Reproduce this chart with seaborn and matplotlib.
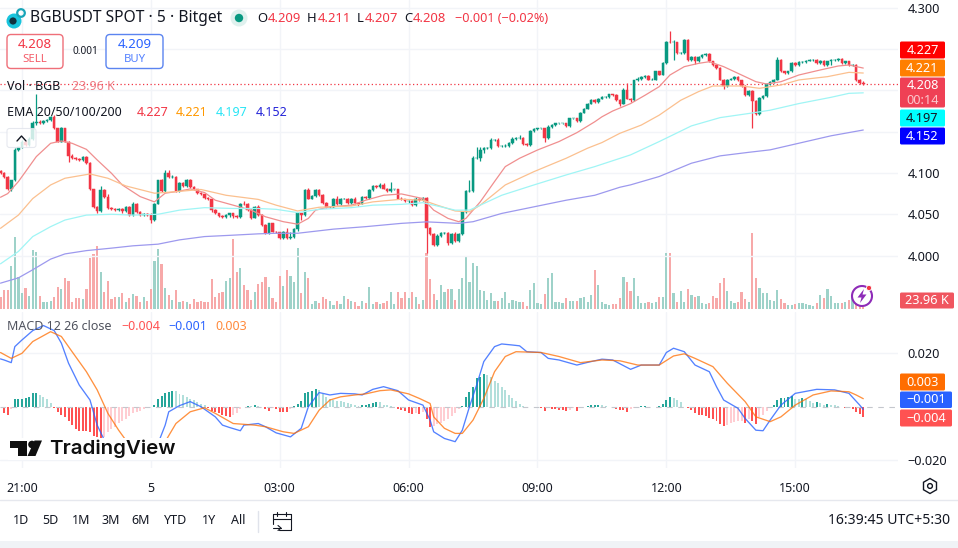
import numpy as np
import pandas as pd
import seaborn as sns
import matplotlib
matplotlib.use("Agg")
import matplotlib.pyplot as plt
from matplotlib.patches import Circle, FancyBboxPatch, Polygon, Rectangle, RegularPolygon

# Candle closes, one per five-minute bar from 20:30 to 16:35
closes = [
    4.100,4.095,4.081,4.091,4.128,4.131,4.138,4.134,4.141,4.160,
    4.162,4.160,4.163,4.164,4.168,4.154,4.138,4.154,4.138,4.120,
    4.118,4.117,4.116,4.119,4.112,4.080,4.059,4.054,4.079,4.071,
    4.057,4.056,4.055,4.056,4.054,4.059,4.049,4.063,4.053,4.049,
    4.050,4.049,4.043,4.063,4.091,4.078,4.100,4.095,4.095,4.078,
    4.088,4.084,4.092,4.083,4.080,4.076,4.074,4.070,4.068,4.055,
    4.051,4.048,4.047,4.049,4.051,4.048,4.047,4.063,4.062,4.055,
    4.046,4.059,4.049,4.037,4.027,4.039,4.029,4.028,4.021,4.029,
    4.021,4.023,4.032,4.051,4.049,4.079,4.069,4.072,4.079,4.073,
    4.064,4.059,4.059,4.069,4.062,4.069,4.069,4.064,4.069,4.064,
    4.063,4.071,4.070,4.079,4.084,4.083,4.086,4.081,4.078,4.080,
    4.080,4.069,4.068,4.066,4.066,4.061,4.069,4.067,4.070,4.033,
    4.026,4.013,4.024,4.027,4.027,4.015,4.026,4.018,4.026,4.053,
    4.078,4.078,4.118,4.118,4.128,4.130,4.130,4.140,4.140,4.133,
    4.133,4.133,4.136,4.141,4.142,4.142,4.135,4.134,4.151,4.153,
    4.154,4.154,4.142,4.156,4.158,4.160,4.160,4.160,4.157,4.166,
    4.166,4.163,4.173,4.178,4.184,4.188,4.186,4.190,4.192,4.192,
    4.195,4.194,4.188,4.184,4.201,4.190,4.188,4.212,4.214,4.216,
    4.217,4.213,4.213,4.223,4.219,4.233,4.259,4.258,4.258,4.245,
    4.245,4.261,4.237,4.240,4.235,4.240,4.243,4.244,4.235,4.231,
    4.227,4.213,4.205,4.213,4.214,4.216,4.212,4.205,4.194,4.199,
    4.187,4.171,4.191,4.193,4.208,4.210,4.213,4.237,4.223,4.221,
    4.223,4.233,4.231,4.234,4.234,4.236,4.237,4.237,4.233,4.236,
    4.231,4.235,4.237,4.237,4.238,4.233,4.235,4.231,4.231,4.212,
    4.209,4.208,
]
first_open = 4.102

# Wick lengths above and below the body, in price ticks of 0.001
upper_ticks = [
    2,1,1,1,2,1,2,1,2,3, 34,2,1,1,1,2,1,2,1,1, 3,1,1,1,2,1,1,1,5,2,
    3,2,1,1,1,1,1,2,1,1, 1,1,2,1,1,2,4,3,2,1, 1,1,1,1,1,1,1,1,1,1,
    1,1,1,1,1,1,1,1,3,2, 1,1,2,1,1,1,1,1,1,1, 4,5,1,2,1,1,3,1,2,1,
    1,1,1,1,3,1,1,1,1,2, 1,1,1,1,1,1,2,2,1,9, 1,1,2,1,1,1,2,1,1,1,
    1,1,2,2,2,2,1,2,1,1, 1,13,2,13,3,2,1,2,1,2, 1,2,1,2,2,4,1,1,1,2,
    1,1,1,2,1,1,1,1,1,1, 1,1,1,1,1,1,1,1,1,1, 1,1,1,1,2,8,1,1,2,1,
    1,1,2,1,1,1,1,13,3,1, 1,1,1,1,1,1,1,1,1,1, 1,1,1,1,1,1,1,1,1,1,
    1,1,1,1,1,1,1,3,1,1, 1,1,1,1,1,1,1,1,1,1, 1,1,1,1,1,1,1,1,1,1,
    2,2,
]
lower_ticks = [
    1,1,2,3,1,2,1,1,1,1, 2,1,1,1,1,1,1,1,1,7, 1,1,1,1,1,1,2,2,1,1,
    1,1,1,1,2,1,1,1,1,1, 1,1,3,1,1,1,1,1,1,1, 1,1,1,1,1,1,1,1,1,2,
    1,1,2,2,2,2,2,2,1,1, 2,1,1,1,1,1,1,1,1,1, 1,1,2,2,6,1,1,1,1,1,
    1,1,1,1,1,1,1,1,1,2, 3,1,1,1,1,1,1,1,1,1, 1,1,1,1,2,1,1,1,1,30,
    1,2,1,1,1,2,1,2,1,1, 1,1,1,1,4,4,1,1,1,1, 1,2,1,1,1,1,1,1,1,1,
    1,1,4,1,1,1,1,1,1,1, 1,1,1,1,1,1,1,1,1,1, 1,1,1,3,1,1,2,1,1,1,
    1,1,1,1,1,1,1,1,21,1, 1,1,1,1,3,1,1,1,1,1, 1,1,3,1,1,1,1,1,1,1,
    33,1,1,1,1,1,1,1,1,1, 1,1,1,1,1,1,1,1,1,1, 1,1,4,1,1,1,1,1,1,1,
    1,1,
]

# Traded volume per bar, thousands of BGB
volumes_k = [
    126,194,194,439,738,330,160,211,136,602, 585,136,75,75,85,126,221,201,320,289,
    75,109,109,99,201,524,558,643,381,177, 289,99,126,126,160,75,109,150,133,75,
    126,85,201,493,609,459,211,143,92,194, 75,85,75,51,99,75,85,75,75,306,
    119,160,177,286,320,714,381,415,245,194, 92,177,255,279,330,228,109,75,340,235,
    398,340,272,619,167,374,313,48,85,58, 126,99,85,41,82,48,136,99,82,75,
    31,82,65,221,48,75,51,58,85,173, 51,170,109,170,116,170,126,51,92,568,
    309,150,92,245,170,201,201,92,201,313, 544,279,466,439,194,184,92,160,82,85,
    109,170,58,92,85,75,75,31,194,262, 58,48,150,320,364,75,75,65,109,85,
    85,85,116,126,68,139,398,245,75,51, 41,51,51,109,330,279,187,320,133,58,
    65,75,65,75,119,119,568,568,160,75, 184,75,201,143,126,133,65,51,65,133,
    109,262,320,187,85,58,75,170,99,68, 779,313,211,167,167,92,82,194,99,58,
    41,41,51,58,58,51,41,31,65,139, 112,201,133,58,58,58,75,92,143,65,
    31,23.96,
]

# Exponential averages, read at selected bars
ema20_bars = [0,2,5,7,10,14,17,20,24,27,31,34,39,43,46,50,53,57,60,65,70,74,79,83,86,88,92,98,102,107,112,118,121,125,128,130,134,138,141,145,150,156,161,166,168,171,176,180,184,187,191,195,198,202,207,211,214,218,223,229,234,237,241]
ema20 = [4.0706,4.075,4.0896,4.1016,4.1198,4.1359,4.1387,4.1359,4.1286,4.1158,4.0996,4.0855,4.0714,4.065,4.0755,4.078,4.0807,4.0763,4.067,4.061,4.055,4.047,4.041,4.038,4.045,4.055,4.059,4.061,4.067,4.073,4.0746,4.069,4.055,4.045,4.041,4.045,4.065,4.0896,4.1077,4.1178,4.1278,4.138,4.1488,4.162,4.168,4.175,4.184,4.194,4.2045,4.2186,4.2287,4.2327,4.2347,4.2287,4.2186,4.2105,4.2077,4.2105,4.2186,4.2247,4.2295,4.2307,4.227]
ema50_bars = [0,5,9,14,18,25,30,35,43,48,56,63,72,77,83,89,98,104,112,118,122,127,131,134,141,149,158,164,168,173,179,184,190,195,199,207,212,218,223,231,237,241]
ema50 = [4.033,4.049,4.069,4.0855,4.0936,4.0988,4.0936,4.0843,4.0755,4.077,4.080,4.073,4.068,4.061,4.054,4.0585,4.060,4.065,4.0682,4.067,4.061,4.054,4.053,4.061,4.0855,4.1016,4.1178,4.13,4.1368,4.148,4.158,4.170,4.188,4.1985,4.2053,4.2053,4.2025,4.2065,4.2126,4.2166,4.2218,4.221]
ema100_bars = [0,5,9,14,18,24,31,37,44,50,57,65,72,77,83,89,98,104,112,118,123,127,131,140,149,158,166,176,184,193,201,209,215,223,232,237,241]
ema100 = [3.990,4.005,4.023,4.035,4.043,4.049,4.050,4.049,4.050,4.055,4.058,4.057,4.057,4.056,4.052,4.056,4.058,4.061,4.062,4.064,4.059,4.055,4.055,4.073,4.0855,4.0976,4.1077,4.1219,4.138,4.157,4.167,4.172,4.176,4.184,4.1916,4.1964,4.197]
ema200_bars = [0,5,9,14,18,24,31,37,44,50,57,65,72,77,83,89,93,102,112,119,128,132,140,149,158,166,173,176,184,193,201,209,215,223,232,241]
ema200 = [3.9666,3.973,3.9828,3.9957,4.002,4.006,4.009,4.0118,4.0138,4.019,4.023,4.0247,4.0263,4.027,4.027,4.030,4.032,4.035,4.039,4.0408,4.039,4.041,4.051,4.059,4.067,4.073,4.0827,4.0856,4.0957,4.1118,4.1207,4.125,4.128,4.136,4.145,4.152]

# MACD line and signal line, read at selected bars
macd_bars = [0,1,3,4,6,9,12,15,17,19,22,25,27,29,32,36,39,41,44,46,47,50,53,56,60,62,64,67,68,72,74,77,81,84,86,89,92,95,99,101,104,107,111,114,118,120,121,124,127,129,131,133,135,138,140,143,145,147,151,153,156,161,164,168,171,176,179,184,186,188,191,194,198,200,202,206,208,211,213,215,218,222,228,233,237,240,241]
macd_line = [.0179,.0175,.0165,.0225,.025,.0285,.0304,.0285,.0238,.0163,.0081,.0025,-.0069,-.0125,-.0175,-.0188,-.0175,-.016,-.0138,-.0069,-.0019,.0004,.0019,0,-.0038,-.0069,-.0078,-.009,-.0069,-.0063,-.0075,-.0098,-.0113,-.0081,0,.0053,.0044,.005,.0048,.0044,.0065,.0075,.006,.0025,.0006,-.005,-.0094,-.0119,-.0131,-.0088,0,.0081,.0169,.0225,.0235,.0231,.0228,.0206,.0203,.0181,.0175,.0156,.0166,.0178,.0175,.014,.0156,.0156,.0203,.0219,.0206,.0156,.0131,.0075,.0025,-.0006,-.0044,-.0088,-.009,-.005,.0006,.005,.0065,.0063,.005,.0006,-.001]
signal_bars = [0,3,6,9,14,17,20,24,27,30,33,35,39,44,46,49,53,57,60,65,71,74,79,82,86,89,92,95,99,102,106,109,114,117,120,121,124,127,129,132,135,138,141,144,151,156,162,168,173,178,184,188,191,194,199,203,208,211,215,218,222,227,232,237,239,241]
signal_line = [.0203,.0181,.02,.0244,.0281,.0263,.0206,.0131,.0063,-.0025,-.0088,-.0125,-.0188,-.0169,-.0131,-.0063,-.0019,-.0004,-.0025,-.0063,-.0069,-.0075,-.0094,-.01,-.0075,-.0013,.0025,.0037,.0044,.0048,.006,.0063,.0048,.0031,.0012,-.0038,-.0081,-.01,-.01,-.005,.0031,.0131,.0188,.0206,.0203,.0188,.0165,.0175,.0172,.0156,.0156,.019,.0198,.0181,.015,.0088,.0019,-.0038,-.0056,-.0038,.0006,.0044,.0059,.0056,.0044,.003]

# MACD histogram, one value per bar
macd_hist = [
    0,-.0025,-.003,-.001,.003,.003,.003,.0034,.0035,.005,
    .005,.0042,.0035,.0028,.0015,-.0006,-.002,-.003,-.004,-.0055,
    -.007,-.0085,-.009,-.0091,-.0092,-.0095,-.011,-.0115,-.012,-.0115,
    -.0095,-.0085,-.0075,-.006,-.0055,-.0045,-.0035,-.0025,-.002,-.0015,
    -.001,-.0005,0,.0008,.003,.004,.005,.0055,.0058,.0057,
    .0048,.0042,.0038,.003,.0025,.0018,.001,.0005,-.0005,-.0015,
    -.002,-.0025,-.003,-.0035,-.0038,-.003,-.0025,-.001,0,.0004,
    .0002,.0005,.0003,-.0002,-.0008,-.0015,-.0005,-.0008,-.0018,-.0018,
    -.002,-.001,.0003,.001,.002,.005,.0055,.006,.0065,.0062,
    .0047,.0035,.003,.0025,.0022,.002,.0017,.0012,.001,.0006,
    .0002,.0005,.0007,.0011,.0015,.0017,.0016,.0007,.0005,.0003,
    -.0001,-.0008,-.0012,-.0015,-.0022,-.0028,-.0025,-.0028,-.0018,-.0045,
    -.0075,-.0074,-.0065,-.006,-.0053,-.0045,-.0035,-.0022,-.001,.0002,
    .0035,.0055,.0075,.0106,.011,.0122,.0118,.011,.0095,.0088,
    .0075,.0062,.0045,.0033,.002,.001,.0002,-.0003,-.0002,-.0002,
    -.0004,-.0006,-.0015,-.0005,-.0008,-.0008,-.0012,-.0012,-.0015,-.0014,
    -.0003,-.0016,-.0006,-.0002,.0001,.0006,.0007,.0008,.0007,.0001,
    -.0002,-.0004,-.001,-.0012,-.0014,-.0018,-.001,-.0005,-.0002,.0001,
    .0003,-.0001,-.0002,-.0002,.0001,.001,.0025,.0035,.0034,.0024,
    .0018,-.0002,-.0005,-.0012,-.0025,-.003,-.0031,-.0035,-.0042,-.0045,
    -.0055,-.0065,-.0072,-.007,-.0062,-.0058,-.0055,-.0054,-.006,-.0045,
    -.0055,-.0065,-.004,-.003,-.0015,-.0005,.0008,.0025,.0032,.0034,
    .0036,.004,.003,.0028,.0032,.0028,.002,.0015,.0017,.0015,
    .0008,.0009,.0007,.0005,.0001,-.0001,-.0004,-.0005,-.0009,-.0018,
    -.0028,-.004,
]

time_tick_bars = [6, 42, 78, 114, 150, 186, 222]
time_tick_labels = ["21:00", "5", "03:00", "06:00", "09:00", "12:00", "15:00"]
price_ticks = [4.00, 4.05, 4.10, 4.15, 4.20, 4.25, 4.30]
price_tick_labels = ["4.000", "4.050", "4.100", "", "", "", "4.300"]
range_buttons = ["1D", "5D", "1M", "3M", "6M", "YTD", "1Y", "All"]

UP = "#089981"
DOWN = "#f23645"
INK = "#131722"
GRID = "#f2f4f8"
FONT = "Noto Sans"

sns.set_theme(style="white")
plt.rcParams["font.family"] = [FONT, "DejaVu Sans"]

W, H = 958, 548
fig = plt.figure(figsize=(W / 100, H / 100), dpi=100, facecolor="white")


def pane(top, bottom, z):
    """Axes spanning the chart width between two pixel rows."""
    return fig.add_axes([0, 1 - bottom / H, 898 / W, (bottom - top) / H], zorder=z)


def set_bar_widths(axis, width):
    """Give every bar drawn on the axis the same width around its centre."""
    for patch in axis.patches:
        centre = patch.get_x() + patch.get_width() / 2
        patch.set_width(width)
        patch.set_x(centre - width / 2)


closes_arr = np.array(closes)
opens_arr = np.r_[first_open, closes_arr[:-1]]
highs = np.maximum(opens_arr, closes_arr) + np.array(upper_ticks) * 0.001
lows = np.minimum(opens_arr, closes_arr) - np.array(lower_ticks) * 0.001
bars = np.arange(len(closes))
rising = closes_arr >= opens_arr
XLIM = (-0.14, 250.7)

# Volume sits underneath the candles and shares their pane
ax_vol = pane(0, 310, 1)
vol_frame = pd.DataFrame({"bar": bars, "vol": volumes_k,
                          "side": np.where(rising, "up", "down")})
sns.barplot(data=vol_frame, x="bar", y="vol", hue="side", dodge=False,
            native_scale=True, errorbar=None, legend=False, saturation=1, linewidth=0,
            palette={"up": "#9ed2c9", "down": "#f7a9a9"}, ax=ax_vol)
set_bar_widths(ax_vol, 0.62)
ax_vol.set_ylim(-10, 3150)
ax_vol.set_xlim(*XLIM)
ax_vol.set_yticks([])
ax_vol.set_xticks(time_tick_bars)
ax_vol.tick_params(labelbottom=False, length=0)
ax_vol.set_xlabel("")
ax_vol.set_ylabel("")
ax_vol.xaxis.grid(True, color=GRID, lw=1)
ax_vol.set_axisbelow(True)
sns.despine(ax=ax_vol, left=True, bottom=True)

# Candles, averages and the last-price line
ax = pane(0, 310, 2)
ax.patch.set_alpha(0)
ax.yaxis.grid(True, color=GRID, lw=1)
ax.set_axisbelow(True)
colors = np.where(rising, UP, DOWN)
ax.vlines(bars, lows, highs, colors=colors, lw=0.9, zorder=3)
ax.bar(bars, closes_arr - opens_arr, bottom=opens_arr, width=0.72, color=colors,
       edgecolor=colors, linewidth=0.35, zorder=4)
for xs, ys, col in [(ema20_bars, ema20, "#f08f8f"), (ema50_bars, ema50, "#fbc08f"),
                    (ema100_bars, ema100, "#a0f5f5"), (ema200_bars, ema200, "#9d99ee")]:
    sns.lineplot(x=xs, y=ys, color=col, lw=0.9, estimator=None, errorbar=None, ax=ax, zorder=5)
ax.axhline(closes[-1], color=DOWN, lw=0.9, ls=(0, (1, 2)), zorder=2)
ax.set_xlim(*XLIM)
ax.set_ylim(3.9341, 4.3094)
ax.set_xticks([])
ax.yaxis.tick_right()
ax.set_yticks(price_ticks)
ax.set_yticklabels(price_tick_labels, color=INK, fontsize=9.2)
ax.tick_params(axis="y", length=0, pad=7)
ax.set_xlabel("")
ax.set_ylabel("")
sns.despine(ax=ax, left=True, bottom=True, right=True)

# MACD pane
ax_m = pane(312, 468, 2)
hist = np.array(macd_hist)
change = np.r_[0, np.diff(hist)]
kind = np.where(hist >= 0, np.where(change >= 0, "up_strong", "up_weak"),
                np.where(change <= 0, "down_strong", "down_weak"))
hist_frame = pd.DataFrame({"bar": bars, "hist": hist, "kind": kind})
sns.barplot(data=hist_frame, x="bar", y="hist", hue="kind", dodge=False,
            native_scale=True, errorbar=None, legend=False, saturation=1, linewidth=0,
            palette={"up_strong": "#26a69a", "up_weak": "#b2dfdb",
                     "down_strong": "#ff5252", "down_weak": "#ffcdd2"}, ax=ax_m)
set_bar_widths(ax_m, 0.55)
ax_m.axhline(0, color="#c4c7cd", lw=0.8, ls=(0, (5, 5)), zorder=1)
sns.lineplot(x=macd_bars, y=macd_line, color="#2962ff", lw=0.95, alpha=0.8,
             estimator=None, errorbar=None, ax=ax_m, zorder=4)
sns.lineplot(x=signal_bars, y=signal_line, color="#ff6d00", lw=0.95, alpha=0.75,
             estimator=None, errorbar=None, ax=ax_m, zorder=4)
ax_m.set_xlim(*XLIM)
ax_m.set_ylim(-0.02296, 0.03547)
ax_m.yaxis.tick_right()
ax_m.set_yticks([-0.02, 0.02])
ax_m.set_yticklabels(["\u22120.020", "0.020"], color=INK, fontsize=9.2)
ax_m.set_xticks(time_tick_bars)
ax_m.set_xticklabels(time_tick_labels, color=INK, fontsize=9)
ax_m.get_xticklabels()[1].set_fontweight("bold")
ax_m.tick_params(axis="y", length=0, pad=7)
ax_m.tick_params(axis="x", length=0, pad=10)
ax_m.grid(True, color=GRID, lw=1)
ax_m.set_axisbelow(True)
ax_m.set_xlabel("")
ax_m.set_ylabel("")
sns.despine(ax=ax_m, left=True, bottom=True, right=True)

# Interface layer, laid out in pixel rows and columns
ui = fig.add_axes([0, 0, 1, 1], zorder=10)
ui.set_xlim(0, W)
ui.set_ylim(H, 0)
ui.axis("off")
ui.patch.set_alpha(0)


def label(x, y, s, color=INK, size=9, ha="left", **kw):
    return ui.text(x, y, s, color=color, fontsize=size, ha=ha, va="center", **kw)


def rect(x0, y0, x1, y1, color, **kw):
    ui.add_patch(Rectangle((x0, y0), x1 - x0, y1 - y0, facecolor=color, edgecolor="none", **kw))


def tag(x1, y0, y1, color, s, text_color="white"):
    ui.add_patch(FancyBboxPatch((900, y0 + 0.5), x1 - 900, y1 - y0 - 1,
                                boxstyle="round,pad=0,rounding_size=1.5",
                                facecolor=color, edgecolor="none"))
    label((900 + x1) / 2, (y0 + y1) / 2, s, color=text_color, size=9.2, ha="center")


# Header
ui.add_patch(Circle((14, 21), 7.5, facecolor="#18c4dc", edgecolor="none"))
ui.add_patch(Circle((13, 21), 3.6, facecolor="#10323f", edgecolor="none"))
ui.add_patch(Circle((21, 13), 3.8, facecolor="none", edgecolor="#18a5b8", lw=1.6))
label(30, 18, "BGBUSDT SPOT \u00b7 5 \u00b7 Bitget", size=11.25)
ui.add_patch(Circle((239, 18), 8.5, facecolor="#dff1ee", edgecolor="none"))
ui.add_patch(Circle((239, 18), 4.2, facecolor=UP, edgecolor="none"))
for px, s, c in [(257, "O", INK), (268, "4.209", DOWN), (307, "H", INK), (318, "4.211", DOWN),
                 (357, "L", INK), (365, "4.207", DOWN), (404, "C", INK), (413, "4.208", DOWN)]:
    label(px, 18, s, color=c, size=9.4)
label(455, 18, "\u22120.001 (\u22120.02%)", color=DOWN, size=9.1)

# Order buttons
for x0, x1, edge, price, word in [(7, 63, "#ef6f79", "4.208", "SELL"), (106, 163, "#5b84f0", "4.209", "BUY")]:
    ui.add_patch(FancyBboxPatch((x0, 34.5), x1 - x0, 34, boxstyle="round,pad=0,rounding_size=4",
                                facecolor="white", edgecolor=edge, lw=1))
    mid = (x0 + x1) / 2
    col = DOWN if word == "SELL" else "#2962ff"
    label(mid, 44, price, color=col, size=9.6, ha="center")
    label(mid, 59, word, color=col, size=8.2, ha="center", alpha=0.8)
label(85, 52, "0.001", size=7.2, ha="center")

# Indicator legends
label(7, 87, "Vol \u00b7 BGB", size=9)
label(72, 87, "23.96 K", color="#ef7d85", size=9)
label(7, 112, "EMA 20/50/100/200", size=9)
for px, s, c in [(137, "4.227", "#f23645"), (176, "4.221", "#ff9800"),
                 (216, "4.197", "#29e5f5"), (256, "4.152", "#2424d8")]:
    label(px, 112, s, color=c, size=9)
label(7, 327, "MACD 12 26 close", color="#50535e", size=9)
for px, s, c in [(121, "\u22120.004", "#ff5252"), (168, "\u22120.001", "#2962ff"), (215, "0.003", "#ff8a3c")]:
    label(px, 327, s, color=c, size=9)

# Collapse button over the legend
ui.add_patch(FancyBboxPatch((7, 128.5), 29, 19, boxstyle="round,pad=0,rounding_size=2.5",
                            facecolor="white", edgecolor="#e0e3eb", lw=0.8, alpha=0.8))
ui.plot([17, 21.5, 26], [141, 136, 141], color=INK, lw=1)

# Price tags on the right scale
tag(945, 41, 59, "#ff0000", "4.227")
tag(945, 59, 77, "#ff7f00", "4.221")
ui.add_patch(FancyBboxPatch((900, 77.5), 45, 30, boxstyle="round,pad=0,rounding_size=1.5",
                            facecolor="#ef4055", edgecolor="none"))
label(922.5, 85.5, "4.208", color="white", size=9.2, ha="center")
label(922.5, 100, "00:14", color="#fbc6cb", size=9.2, ha="center")
tag(945, 109, 127, "#00ffff", "4.197", INK)
tag(945, 127, 145, "#0000ff", "4.152")
tag(954, 292, 309, "#f0555f", "23.96 K")
tag(945, 373, 391, "#ff6d00", "0.003")
tag(952, 391, 408.5, "#2962ff", "\u22120.001")
tag(952, 409, 427, "#ff5252", "\u22120.004")

# Alert badge above the volume
ui.add_patch(Circle((862, 296), 10, facecolor="white", edgecolor="#8e2bb8", lw=1.5))
ui.add_patch(Polygon([(864, 289), (857.5, 297.5), (861.5, 297.5), (860, 303), (866.5, 294.5), (862.5, 294.5)],
                     facecolor="#8e2bb8", edgecolor="none"))
ui.add_patch(Circle((869, 288), 2.6, facecolor="#f23645", edgecolor="white", lw=0.6))

# Brand mark, sitting on a cleared patch of the MACD pane
rect(8, 438, 178, 460, "white")
ui.add_patch(Polygon([(10, 440.5), (27, 440.5), (27, 456), (18.5, 456), (18.5, 448), (10, 448)],
                     facecolor="#0f0f0f", edgecolor="none"))
ui.add_patch(Circle((32, 444.5), 3.8, facecolor="#0f0f0f", edgecolor="none"))
ui.add_patch(Polygon([(27.5, 456), (35.5, 456), (42, 440.5), (34.5, 440.5)],
                     facecolor="#0f0f0f", edgecolor="none"))
ui.text(49, 449, "TradingView", color="#0f0f0f", fontsize=14.8, fontweight="semibold",
        family="Inter", ha="left", va="center")

# Settings hexagon on the time scale
ui.add_patch(RegularPolygon((930, 486), 6, radius=7.5, orientation=0, facecolor="none", edgecolor=INK, lw=1))
ui.add_patch(Circle((930, 486), 2.4, facecolor="none", edgecolor=INK, lw=1))

# Bottom toolbar with the calendar button
ui.plot([0, W], [500, 500], color="#e6e8ee", lw=1)
for cx, s in zip([21, 50, 81, 111, 141, 176, 209, 238], range_buttons):
    label(cx, 521, s, size=9, ha="center")
ui.plot([258, 258], [511, 532], color="#e0e3eb", lw=1)
ui.plot([279, 291, 291, 273, 273], [530, 530, 514, 514, 524], color=INK, lw=0.8)
ui.plot([273, 291], [519, 519], color=INK, lw=0.8)
ui.plot([277, 277], [511.5, 516], color=INK, lw=0.8)
ui.plot([286, 286], [511.5, 516], color=INK, lw=0.8)
ui.plot([273, 281], [528, 528], color=INK, lw=0.8)
ui.plot([278, 281, 278], [525.5, 528, 530.5], color=INK, lw=0.8)
label(950, 521, "16:39:45 UTC+5:30", size=10.1, ha="right")
rect(0, 541, W, H, "#f0f3f6")

fig.savefig("out.png", dpi=100)
